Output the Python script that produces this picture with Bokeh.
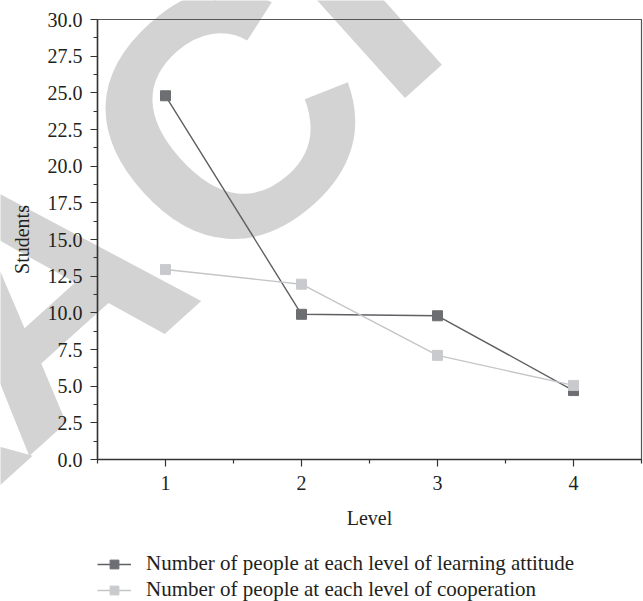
import math
from bokeh.plotting import figure
from bokeh.layouts import column
from bokeh.models import (Range1d, FixedTicker, NumeralTickFormatter, Legend, LegendItem, Label)
from bokeh.embed import file_html
from bokeh.resources import INLINE

levels = [1, 2, 3, 4]
learning_attitude = [24.8, 9.9, 9.8, 4.7]
cooperation = [12.95, 11.95, 7.1, 5.05]
y_ticks = [0, 2.5, 5, 7.5, 10, 12.5, 15, 17.5, 20, 22.5, 25, 27.5, 30]
y_minor = [1.25 + 2.5 * i for i in range(12)]
x_minor = [0.5, 1.5, 2.5, 3.5, 4.5]
series_names = ["Number of people at each level of learning attitude",
                "Number of people at each level of cooperation"]
watermark_letters = ["R", "A", "C", "T"]

W, H1, H2 = 643, 540, 61
FONT = "Liberation Serif"
TXT = "#231f20"
DARK_LINE, DARK_MARK = "#5f6064", "#6d6e72"
LIGHT_LINE, LIGHT_MARK = "#c4c5c8", "#c9cacd"

# ---- watermark layer (separate root, sits behind the chart) ----
w = figure(width=W, height=H1 + H2, output_backend="svg", toolbar_location=None,
           x_axis_type=None, y_axis_type=None,
           x_range=Range1d(0, 1), y_range=Range1d(0, 1),
           min_border=0, min_border_left=0, min_border_right=0,
           min_border_top=0, min_border_bottom=0,
           background_fill_color="white", border_fill_color="white",
           styles={"position": "absolute", "top": "0px", "left": "0px", "z-index": "-1"})
w.grid.visible = False
w.outline_line_color = None
ang = math.radians(42)
wm_pos = [(-135, 445), (35, 289), (225, 118), (343, -8)]
for ch, (cx, cy) in zip(watermark_letters, wm_pos):
    w.add_layout(Label(x=cx, y=(H1 + H2) - cy, x_units="screen", y_units="screen",
                       text=ch, angle=ang, text_align="center", text_baseline="alphabetic",
                       text_font="Liberation Sans", text_font_style="bold",
                       text_font_size="345px", text_color="#d3d3d3"))

# ---- main chart ----
p = figure(width=W, height=H1, output_backend="svg", toolbar_location=None,
           x_range=Range1d(0.5, 4.5), y_range=Range1d(0, 30),
           min_border_left=97, min_border_right=2, min_border_top=19,
           min_border_bottom=81,
           background_fill_color=None, border_fill_color=None)
p.grid.visible = False
p.outline_line_color = "#555555"
p.outline_line_width = 1.2

l1 = p.line(levels, learning_attitude, line_color=DARK_LINE, line_width=1.4)
s1 = p.scatter(levels, learning_attitude, marker="square", size=10,
               fill_color=DARK_MARK, line_color=DARK_MARK)
l2 = p.line(levels, cooperation, line_color=LIGHT_LINE, line_width=1.4)
s2 = p.scatter(levels, cooperation, marker="square", size=10,
               fill_color=LIGHT_MARK, line_color=LIGHT_MARK)

for ax in (p.xaxis[0], p.yaxis[0]):
    ax.axis_line_color = "#333333"
    ax.axis_line_width = 1.5
    ax.major_tick_line_color = "#333333"
    ax.minor_tick_line_color = "#333333"
    ax.major_tick_line_width = 1.2
    ax.minor_tick_line_width = 1.2
    ax.major_tick_in = 0
    ax.minor_tick_in = 0
    ax.major_tick_out = 7
    ax.minor_tick_out = 4
    ax.major_label_text_font = FONT
    ax.major_label_text_font_size = "20px"
    ax.major_label_text_color = TXT
    ax.axis_label_text_font = FONT
    ax.axis_label_text_font_size = "20px"
    ax.axis_label_text_font_style = "normal"
    ax.axis_label_text_color = TXT

p.xaxis.ticker = FixedTicker(ticks=levels, minor_ticks=x_minor)
p.yaxis.ticker = FixedTicker(ticks=y_ticks, minor_ticks=y_minor)
p.yaxis.formatter = NumeralTickFormatter(format="0.0")
p.xaxis.axis_label = "Level"
p.yaxis.axis_label = "Students"
p.xaxis.major_label_standoff = 9
p.yaxis.major_label_standoff = 8
p.xaxis.axis_label_standoff = 14
p.yaxis.axis_label_standoff = 12

# ---- legend strip below the chart ----
q = figure(width=W, height=H2, output_backend="svg", toolbar_location=None,
           x_axis_type=None, y_axis_type=None,
           x_range=Range1d(100, 101), y_range=Range1d(100, 101),
           min_border_left=97, min_border_right=2, min_border_top=11, min_border_bottom=0,
           background_fill_color=None, border_fill_color=None)
q.grid.visible = False
q.outline_line_color = None
ql1 = q.line(levels, learning_attitude, line_color=DARK_LINE, line_width=1.4)
qs1 = q.scatter(levels, learning_attitude, marker="square", size=10,
                fill_color=DARK_MARK, line_color=DARK_MARK)
ql2 = q.line(levels, cooperation, line_color=LIGHT_LINE, line_width=1.4)
qs2 = q.scatter(levels, cooperation, marker="square", size=10,
                fill_color=LIGHT_MARK, line_color=LIGHT_MARK)
legend = Legend(items=[LegendItem(label=series_names[0], renderers=[ql1, qs1]),
                       LegendItem(label=series_names[1], renderers=[ql2, qs2])],
                location="top_left", orientation="vertical",
                label_text_font=FONT, label_text_font_size="21px", label_text_color=TXT,
                glyph_width=34, glyph_height=22, label_height=22, label_standoff=15,
                spacing=1, padding=0, margin=0, border_line_color=None,
                background_fill_alpha=0)
q.add_layout(legend)

open("out.html", "w").write(file_html([column(p, q, spacing=0), w], INLINE))
